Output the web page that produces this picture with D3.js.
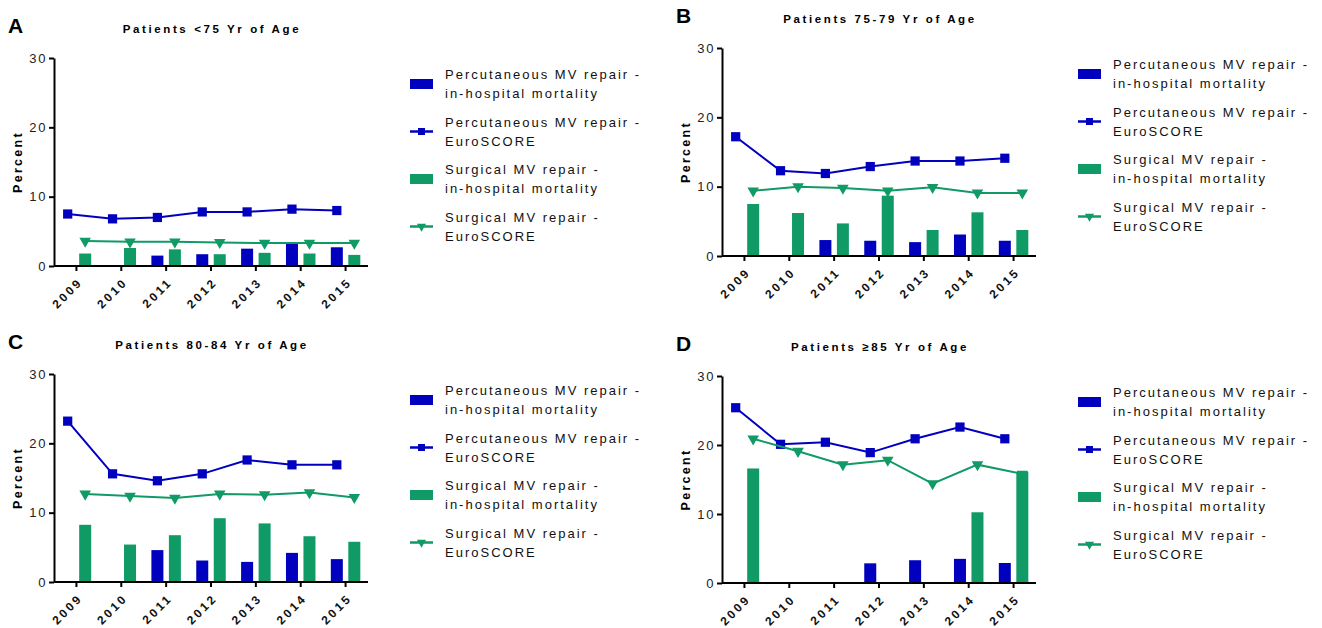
<!DOCTYPE html>
<html lang="en">

<head>
    <meta charset="UTF-8">
    <script src="https://d3js.org/d3.v7.min.js"></script>
    <style>
        html,
        body {
            margin: 0;
            padding: 0;
            background: #fff;
            overflow: hidden
        }

        svg {
            font-family: "Liberation Sans", Arial, sans-serif;
        }

        .axis path,
        .axis line {
            stroke: #000;
            stroke-width: 2px;
        }

        .y-axis text {
            font-size: 13px;
            letter-spacing: 1.6px;
            fill: #222;
        }

        .x-axis text {
            font-size: 12px;
            font-weight: bold;
            letter-spacing: 2.6px;
            fill: #111;
        }

        .title {
            font-size: 11.5px;
            font-weight: bold;
            letter-spacing: 2.6px;
        }

        .letter {
            font-size: 21px;
            font-weight: bold;
        }

        .ylabel {
            font-size: 12.5px;
            font-weight: bold;
            letter-spacing: 2.3px;
        }

        .legend text {
            font-size: 13px;
            letter-spacing: 2px;
            fill: #111;
        }
    </style>
</head>

<body>
    <svg id="chart" width="1322" height="628"></svg>
    <script>
        const years = ["2009", "2010", "2011", "2012", "2013", "2014", "2015"];
        const yTicks = [0, 10, 20, 30];

        // A: <75
        const percMortA = [null, null, 1.5, 1.7, 2.5, 3.4, 2.7];
        const percEuroA = [7.5, 6.8, 7.0, 7.8, 7.8, 8.2, 8.0];
        const surgMortA = [1.8, 2.6, 2.4, 1.7, 1.9, 1.8, 1.6];
        const surgEuroA = [3.6, 3.5, 3.5, 3.4, 3.3, 3.3, 3.3];

        // B: 75-79
        const percMortB = [null, null, 2.3, 2.2, 2.0, 3.1, 2.2];
        const percEuroB = [17.2, 12.3, 11.9, 12.9, 13.7, 13.7, 14.1];
        const surgMortB = [7.5, 6.2, 4.7, 8.7, 3.75, 6.3, 3.75];
        const surgEuroB = [9.4, 10.0, 9.8, 9.4, 9.9, 9.1, 9.1];

        // C: 80-84
        const percMortC = [null, null, 4.6, 3.1, 2.9, 4.2, 3.3];
        const percEuroC = [23.2, 15.6, 14.6, 15.6, 17.6, 16.9, 16.9];
        const surgMortC = [8.25, 5.4, 6.75, 9.2, 8.45, 6.6, 5.8];
        const surgEuroC = [12.7, 12.4, 12.1, 12.7, 12.6, 12.9, 12.2];

        // D: >=85
        const percMortD = [null, null, null, 2.85, 3.3, 3.5, 2.9];
        const percEuroD = [25.4, 20.1, 20.4, 18.9, 20.9, 22.6, 20.9];
        const surgMortD = [16.6, null, null, null, null, 10.25, 16.1];
        const surgEuroD = [20.9, 19.1, 17.15, 17.8, 14.4, 17.15, 15.8];

        const legendLabels = [
            ["Percutaneous MV repair -", "in-hospital mortality"],
            ["Percutaneous MV repair -", "EuroSCORE"],
            ["Surgical MV repair -", "in-hospital mortality"],
            ["Surgical MV repair -", "EuroSCORE"]
        ];

        const blue = "#0000BE";
        const green = "#0F9A66";

        const panels = [
            { letter: "A", title: "Patients <75 Yr of Age", x0: 54, top: 58, bottom: 266,
              series: [percMortA, percEuroA, surgMortA, surgEuroA] },
            { letter: "B", title: "Patients 75-79 Yr of Age", x0: 722, top: 48, bottom: 256,
              series: [percMortB, percEuroB, surgMortB, surgEuroB] },
            { letter: "C", title: "Patients 80-84 Yr of Age", x0: 54, top: 374, bottom: 582,
              series: [percMortC, percEuroC, surgMortC, surgEuroC] },
            { letter: "D", title: "Patients \u226585 Yr of Age", x0: 722, top: 376, bottom: 583,
              series: [percMortD, percEuroD, surgMortD, surgEuroD] }
        ];

        const svg = d3.select("#chart");

        panels.forEach(p => {
            const g = svg.append("g");
            const x = d3.scaleBand().domain(years).range([p.x0, p.x0 + 314]);
            const y = d3.scaleLinear().domain([0, 30]).range([p.bottom, p.top]);
            const bw = x.bandwidth();
            const off = d3.scalePoint().domain(["perc", "surg"]).range([-bw * 0.195, bw * 0.195]);
            const cx = (i, s) => x(years[i]) + bw / 2 + off(s);
            const barW = 12;

            // bars
            [[p.series[0], "perc", blue], [p.series[2], "surg", green]].forEach(([vals, s, c]) => {
                g.selectAll(null)
                    .data(vals.map((v, i) => ({ v, i })).filter(d => d.v != null))
                    .join("rect")
                    .attr("x", d => cx(d.i, s) - barW / 2)
                    .attr("y", d => y(d.v))
                    .attr("width", barW)
                    .attr("height", d => y(0) - y(d.v))
                    .attr("fill", c);
            });

            // lines
            [[p.series[1], "perc", blue, d3.symbolSquare, 0, 85],
             [p.series[3], "surg", green, d3.symbolTriangle, 180, 58]].forEach(([vals, s, c, sym, rot, size]) => {
                const line = d3.line().x((d, i) => cx(i, s)).y(d => y(d));
                g.append("path")
                    .attr("d", line(vals))
                    .attr("fill", "none")
                    .attr("stroke", c)
                    .attr("stroke-width", 2);
                g.selectAll(null)
                    .data(vals)
                    .join("path")
                    .attr("d", d3.symbol(sym, size))
                    .attr("transform", (d, i) => `translate(${cx(i, s)},${y(d)}) rotate(${rot})`)
                    .attr("fill", c);
            });

            // axes
            g.append("g")
                .attr("class", "axis y-axis")
                .attr("transform", `translate(${p.x0},0)`)
                .call(d3.axisLeft(y).tickValues(yTicks).tickSize(5).tickSizeOuter(0).tickPadding(2));

            g.append("g")
                .attr("class", "axis x-axis")
                .attr("transform", `translate(0,${p.bottom})`)
                .call(d3.axisBottom(x).tickSize(5).tickSizeOuter(0))
                .call(a => a.select(".domain").attr("d", `M${p.x0},0H${p.x0 + 314}`))
                .selectAll("text")
                .attr("x", 0)
                .attr("y", 0)
                .attr("dy", "0.35em")
                .attr("transform", "translate(4,14) rotate(-45)")
                .style("text-anchor", "end");

            // title, letter, y label
            g.append("text").attr("class", "title")
                .attr("x", p.x0 + 158).attr("y", p.top - 25)
                .attr("text-anchor", "middle").text(p.title);
            g.append("text").attr("class", "letter")
                .attr("x", p.x0 - 46).attr("y", p.top - 25).text(p.letter);
            g.append("text").attr("class", "ylabel")
                .attr("transform", `translate(${p.x0 - 32},${(p.top + p.bottom) / 2}) rotate(-90)`)
                .attr("text-anchor", "middle").text("Percent");

            // legend
            const lg = g.append("g").attr("class", "legend")
                .attr("transform", `translate(${p.x0 + 356},${p.top + 16.5})`);
            legendLabels.forEach((lab, k) => {
                const e = lg.append("g").attr("transform", `translate(0,${k * 47.5})`);
                const c = k < 2 ? blue : green;
                const my = 9.5;
                if (k % 2 === 0) {
                    e.append("rect").attr("x", 0).attr("y", my - 5).attr("width", 23).attr("height", 10).attr("fill", c);
                } else {
                    e.append("line").attr("x1", 0).attr("x2", 23).attr("y1", my).attr("y2", my)
                        .attr("stroke", c).attr("stroke-width", 2.5);
                    e.append("path")
                        .attr("d", d3.symbol(k === 1 ? d3.symbolSquare : d3.symbolTriangle, k === 1 ? 49 : 36))
                        .attr("transform", `translate(11.5,${my}) rotate(${k === 1 ? 0 : 180})`)
                        .attr("fill", c);
                }
                lab.forEach((t, j) => {
                    e.append("text").attr("x", 35).attr("y", j * 19).attr("dy", "0.35em").text(t);
                });
            });
        });
    </script>
</body>

</html>
